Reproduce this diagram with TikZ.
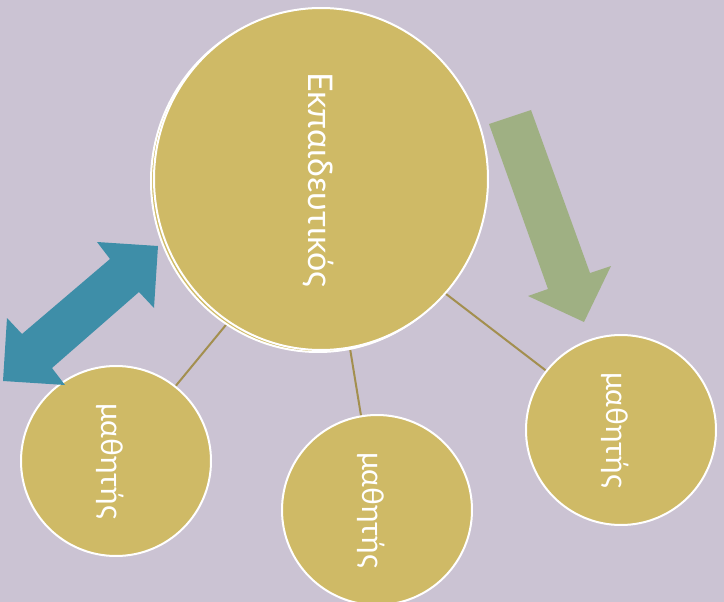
\documentclass[tikz,border=0pt]{standalone}
\usepackage{fontspec}
\setmainfont{Lato}
\definecolor{bg}{HTML}{CBC3D3}
\definecolor{gold}{HTML}{CFBA66}
\definecolor{link}{HTML}{A38F4F}
\definecolor{teal}{HTML}{3E8EA8}
\definecolor{sage}{HTML}{9FB083}
\tikzset{
  bubble/.style={ellipse, draw=white, line width=2pt, fill=gold, inner sep=0pt},
  label/.style={text=white, rotate=-90, inner sep=0pt},
  linkline/.style={draw=link, line width=2pt},
}
\usetikzlibrary{shapes.geometric}
\begin{document}
\begin{tikzpicture}[x=1pt,y=-1pt]
\fill[bg] (0,0) rectangle (724,602);
\useasboundingbox (0,0) rectangle (724,602);
% connector end points (hidden under the circles)
\coordinate (a1) at (244,303);
\coordinate (b1) at (160,405);
\coordinate (a2) at (347,330);
\coordinate (b2) at (365,440);
\coordinate (a3) at (420,274);
\coordinate (b3) at (570,389);
\draw[linkline] (a1) -- (b1);
\draw[linkline] (a2) -- (b2);
\draw[linkline] (a3) -- (b3);
% big circle with back copy
\node[bubble, minimum width=334pt, minimum height=342pt] (back) at (318,181) {};
\node[bubble, minimum width=334pt, minimum height=342pt] (big) at (321,179) {};
\node[label, font=\fontsize{34}{36}\selectfont] (tbig) at (318,180) {Εκπαιδευτικός};
% small circles
\node[bubble, minimum width=190pt, minimum height=190pt] (s1) at (116,461) {};
\node[bubble, minimum width=190pt, minimum height=190pt] (s2) at (377,510) {};
\node[bubble, minimum width=190pt, minimum height=190pt] (s3) at (621,430) {};
\node[label, font=\fontsize{30}{32}\selectfont] (t1) at (110,461) {μαθητής};
\node[label, font=\fontsize{30}{32}\selectfont] (t2) at (371,510) {μαθητής};
\node[label, font=\fontsize{30}{32}\selectfont] (t3) at (615,430) {μαθητής};
% teal double arrow
\fill[teal] (3,381) -- (7,318) -- (22,334) -- (110,259) -- (97,242) -- (158,246)
  -- (154,308) -- (139,292) -- (52,368) -- (65,385) -- cycle;
% sage arrow
\fill[sage] (489,124) -- (531,110) -- (590,273) -- (611,266) -- (584,322)
  -- (528,296) -- (548,289) -- cycle;
\end{tikzpicture}
\end{document}
